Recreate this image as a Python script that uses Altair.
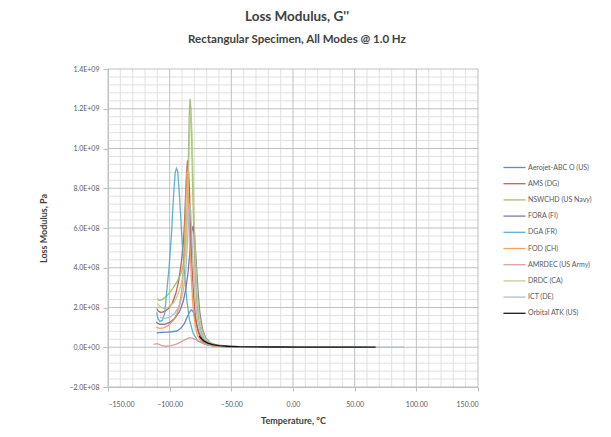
import altair as alt
import pandas as pd

# ---------------- data ----------------
series_names = [
    "Aerojet-ABC O (US)", "AMS (DG)", "NSWCHD (US Navy)", "FORA (FI)", "DGA (FR)",
    "FOD (CH)", "AMRDEC (US Army)", "DRDC (CA)", "ICT (DE)", "Orbital ATK (US)",
]
series_colors = ["#4F81BD", "#C0504D", "#9BBB59", "#8064A2", "#4BACC6",
                 "#F79646", "#D99694", "#B5CC8A", "#A9B8C8", "#000000"]
series_widths = [1.3, 1.3, 1.3, 1.3, 1.3, 1.3, 1.3, 1.3, 1.3, 2.4]

aerojet_t = [-110.5, -106, -102, -98, -94, -91, -88, -86, -84, -82.5, -81, -79.5, -78, -76, -73, -69, -63, -55, -40, -20, 10, 50]
aerojet_v = [7.2e7, 7.5e7, 7.6e7, 7.8e7, 8.2e7, 9.5e7, 1.2e8, 1.5e8, 1.75e8, 1.88e8, 1.8e8, 1.5e8, 1.1e8, 7e7, 3.8e7, 1.8e7, 8e6, 4e6, 2e6, 1e6, 5e5, 3e5]

ams_t = [-110.5, -109, -107, -104, -101, -98, -95, -92.5, -90.5, -89, -88, -87, -86, -85.5, -85, -84, -83.2, -82, -80.5, -79, -77, -75, -72, -68, -62, -52, -35, -10, 20, 45]
ams_v = [1.95e8, 1.8e8, 1.75e8, 1.8e8, 1.95e8, 2.2e8, 2.7e8, 3.4e8, 4.3e8, 5.2e8, 6.2e8, 7.8e8, 9.0e8, 9.4e8, 9.2e8, 8.0e8, 6.2e8, 4.2e8, 2.5e8, 1.5e8, 8e7, 4.5e7, 2.2e7, 1.1e7, 5e6, 2.5e6, 1.2e6, 6e5, 3e5, 2e5]

nswc_t = [-110, -108.5, -106, -103, -100, -97, -94, -91.5, -89.5, -88, -87, -86, -85, -84.2, -83.5, -82.8, -82, -81.2, -80.3, -79.2, -78, -76.5, -74.5, -72, -68, -62, -52, -35, -10, 20, 50]
nswc_v = [2.45e8, 2.35e8, 2.4e8, 2.55e8, 2.75e8, 3.0e8, 3.3e8, 3.6e8, 4.0e8, 4.5e8, 5.3e8, 6.8e8, 9.0e8, 1.15e9, 1.25e9, 1.2e9, 1.0e9, 7.6e8, 5.4e8, 3.6e8, 2.3e8, 1.4e8, 8e7, 4.2e7, 2e7, 9e6, 4e6, 2e6, 1e6, 5e5, 3e5]

fora_t = [-111, -108, -104, -100, -96, -92, -89, -87, -85, -83.5, -82.2, -81, -79.8, -78.5, -77, -75.5, -73.5, -71, -67, -61, -52, -35, -10, 20, 55]
fora_v = [1.25e8, 1.15e8, 1.15e8, 1.25e8, 1.45e8, 1.8e8, 2.3e8, 2.9e8, 3.8e8, 4.9e8, 5.8e8, 6.1e8, 5.6e8, 4.3e8, 2.8e8, 1.7e8, 9.5e7, 5e7, 2.2e7, 1e7, 4.5e6, 2e6, 1e6, 5e5, 3e5]

dga_t = [-110.5, -109.5, -108, -106, -104, -103, -100.5, -98.5, -97, -95.5, -94.5, -93.5, -92, -90.3, -88, -86.2, -84, -81, -77, -70, -60, -40, 0]
dga_v = [1.75e8, 1.45e8, 1.3e8, 1.35e8, 1.7e8, 2.4e8, 4.0e8, 5.7e8, 7.5e8, 8.8e8, 9.0e8, 8.85e8, 7.6e8, 5.7e8, 3.8e8, 2.4e8, 1.4e8, 7e7, 3e7, 1.2e7, 5e6, 2e6, 1e6]

fod_t = [-111, -108, -105, -101, -97, -94, -91.5, -89.5, -88.2, -87.2, -86.3, -85.5, -84.6, -83.6, -82.4, -81, -79.3, -77.5, -75, -72, -68, -62, -52, -35, -10, 15, 40]
fod_v = [1.0e8, 9.5e7, 9.8e7, 1.1e8, 1.35e8, 1.7e8, 2.3e8, 3.2e8, 4.6e8, 6.8e8, 8.8e8, 8.6e8, 7.2e8, 5.2e8, 3.4e8, 2.0e8, 1.1e8, 6e7, 3.2e7, 1.7e7, 9e6, 4.5e6, 2.2e6, 1.1e6, 6e5, 3e5, 2e5]

amrdec_t = [-113, -110, -107, -103, -99, -95, -91, -87, -84, -81, -78, -74, -69, -62, -50, -30, 0, 30, 50]
amrdec_v = [1.5e7, 1.8e7, 1.0e7, 5e6, 8e6, 1.5e7, 2.6e7, 4e7, 4.8e7, 4.5e7, 3.5e7, 2.3e7, 1.3e7, 7e6, 3e6, 1.5e6, 8e5, 5e5, 3e5]

drdc_t = [-110, -107, -104, -100, -96, -93, -90.5, -88.5, -87, -85.8, -84.7, -83.8, -83, -82.2, -81.3, -80.2, -79, -77.6, -76, -74, -71, -67, -61, -50, -30, 0, 30, 60]
drdc_v = [2.2e8, 2.0e8, 1.95e8, 2.05e8, 2.3e8, 2.7e8, 3.2e8, 3.9e8, 4.9e8, 6.5e8, 8.8e8, 1.08e9, 1.18e9, 1.12e9, 9.2e8, 6.6e8, 4.4e8, 2.7e8, 1.6e8, 9e7, 4.5e7, 2.2e7, 1e7, 4.5e6, 2e6, 1e6, 6e5, 4e5]

ict_t = [-108, -104, -100, -96, -92, -89, -87, -85.5, -84.5, -83.8, -83, -82, -80.8, -79.4, -77.8, -75.5, -72.5, -68, -62, -52, -35, -10, 20, 50, 90]
ict_v = [1.5e8, 1.45e8, 1.5e8, 1.7e8, 2.1e8, 2.8e8, 3.8e8, 5.3e8, 6.6e8, 7.2e8, 6.9e8, 5.6e8, 3.9e8, 2.5e8, 1.5e8, 8e7, 4e7, 1.8e7, 8.5e6, 4e6, 2e6, 1e6, 6e5, 4e5, 3e5]

orbital_t = [-76, -74, -72, -69, -65, -60, -53, -44, -32, -15, 5, 25, 45, 67]
orbital_v = [5.5e7, 4.2e7, 3.1e7, 2.1e7, 1.3e7, 8e6, 5e6, 3e6, 2e6, 1.2e6, 8e5, 5e5, 3e5, 2e5]

x_ticks = [-150, -100, -50, 0, 50, 100, 150]
y_ticks = [-2e8, 0, 2e8, 4e8, 6e8, 8e8, 1.0e9, 1.2e9, 1.4e9]
x_minor = [-140, -130, -120, -110, -90, -80, -70, -60, -40, -30, -20, -10,
           10, 20, 30, 40, 60, 70, 80, 90, 110, 120, 130, 140]
y_minor = [-1.6e8, -1.2e8, -8e7, -4e7, 4e7, 8e7, 1.2e8, 1.6e8, 2.4e8, 2.8e8, 3.2e8, 3.6e8,
           4.4e8, 4.8e8, 5.2e8, 5.6e8, 6.4e8, 6.8e8, 7.2e8, 7.6e8, 8.4e8, 8.8e8, 9.2e8, 9.6e8,
           1.04e9, 1.08e9, 1.12e9, 1.16e9, 1.24e9, 1.28e9, 1.32e9, 1.36e9]

# ---------------- build table ----------------
all_t = [aerojet_t, ams_t, nswc_t, fora_t, dga_t, fod_t, amrdec_t, drdc_t, ict_t, orbital_t]
all_v = [aerojet_v, ams_v, nswc_v, fora_v, dga_v, fod_v, amrdec_v, drdc_v, ict_v, orbital_v]
rows = []
for name, ts, vs in zip(series_names, all_t, all_v):
    for i, (t, v) in enumerate(zip(ts, vs)):
        rows.append({"series": name, "temp": t, "value": v, "idx": i})
df = pd.DataFrame(rows)

FONT = "Lato"
xscale = alt.Scale(domain=[-150, 150], nice=False, zero=False)
yscale = alt.Scale(domain=[-2e8, 1.4e9], nice=False, zero=False)

grid_minor_x = alt.Chart(pd.DataFrame({"gx": x_minor})).mark_rule(
    color="#E0E0E0", strokeWidth=1, opacity=1
).encode(x=alt.X("gx:Q", scale=xscale, axis=None))

grid_minor_y = alt.Chart(pd.DataFrame({"gy": y_minor})).mark_rule(
    color="#E0E0E0", strokeWidth=1, opacity=1
).encode(y=alt.Y("gy:Q", scale=yscale, axis=None))

grid_major_x = alt.Chart(pd.DataFrame({"mx": x_ticks})).mark_rule(
    color="#C0C0C0", strokeWidth=1, opacity=1
).encode(x=alt.X("mx:Q", scale=xscale, axis=None))

grid_major_y = alt.Chart(pd.DataFrame({"my": y_ticks})).mark_rule(
    color="#C0C0C0", strokeWidth=1, opacity=1
).encode(y=alt.Y("my:Q", scale=yscale, axis=None))

leg = alt.Legend(
    title=None, orient="none", legendX=399, legendY=91, padding=0,
    symbolType="M-1.7,0H1.7", symbolSize=169, symbolStrokeWidth=1.5,
    labelFontSize=7, labelFont=FONT, labelColor="#595959", labelOffset=6,
    rowPadding=5.2, labelLimit=200,
)

lines = alt.Chart(df).mark_line(opacity=0.9).encode(
    x=alt.X("temp:Q", scale=xscale, title="Temperature, °C",
            axis=alt.Axis(orient="bottom", values=x_ticks, format=".2f", grid=False,
                          tickSize=4, labelPadding=9, titlePadding=9)),
    y=alt.Y("value:Q", scale=yscale, title="Loss Modulus, Pa",
            axis=alt.Axis(orient="left", values=y_ticks,
                          labelExpr="replace(format(datum.value, '.1e'), 'e+', 'E+0')",
                          grid=False, tickSize=5, labelPadding=4, titlePadding=20)),
    color=alt.Color("series:N", scale=alt.Scale(domain=series_names, range=series_colors), legend=leg),
    strokeWidth=alt.StrokeWidth("series:N", scale=alt.Scale(domain=series_names, range=series_widths), legend=leg),
    order=alt.Order("idx:Q"),
)

chart = alt.layer(grid_minor_x, grid_minor_y, grid_major_x, grid_major_y, lines).resolve_axis(
    x="independent", y="independent"
).properties(
    width=370, height=318,
    background="white",
    padding={"left": 108, "top": 69, "right": 133, "bottom": 50},
    autosize=alt.AutoSizeParams(type="none"),
    title=alt.TitleParams(
        text="Loss Modulus, G''",
        subtitle="Rectangular Specimen, All Modes @ 1.0 Hz",
        anchor="middle", font=FONT, fontSize=13.5, fontWeight="bold", color="#404040",
        subtitleFont=FONT, subtitleFontSize=11.5, subtitleFontWeight="bold", subtitleColor="#404040",
        subtitlePadding=10, offset=20, dx=4,
    ),
).configure_view(stroke=None).configure_axis(
    domainColor="#BFBFBF", tickColor="#BFBFBF", labelFont=FONT, labelFontSize=7,
    labelColor="#595959", titleFont=FONT, titleFontSize=9, titleFontWeight="bold",
    titleColor="#404040",
)

chart.save("out.html", embed_options={"renderer": "svg", "actions": False})
